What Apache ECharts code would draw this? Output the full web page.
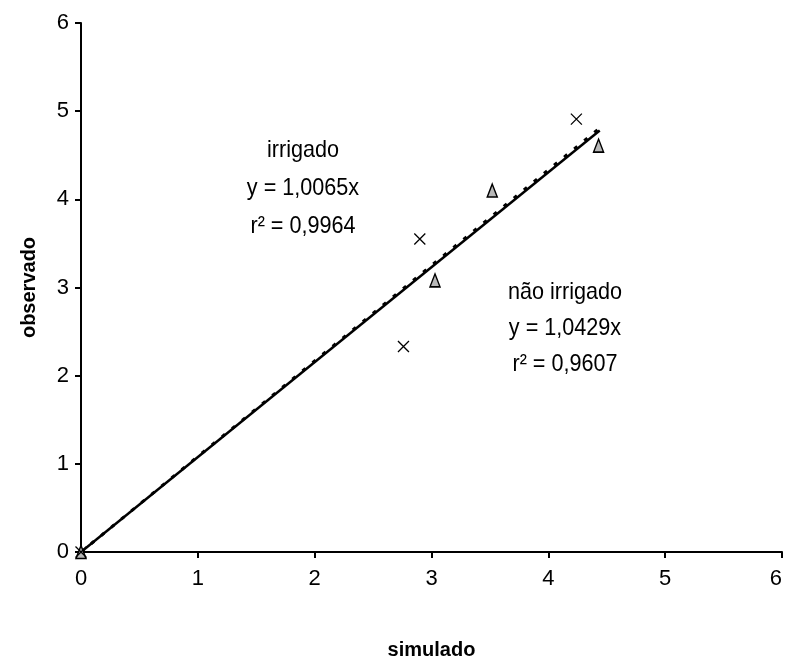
<!DOCTYPE html>
<html>
<head>
<meta charset="utf-8">
<script src="https://cdn.jsdelivr.net/npm/echarts@6/dist/echarts.min.js"></script>
<style>
  html, body { margin: 0; padding: 0; background: #fff; }
  #chart { width: 786px; height: 663px; }
</style>
</head>
<body>
<div id="chart"></div>
<script>
// valores
var axisTicks = [0, 1, 2, 3, 4, 5, 6];
var irrigado = [[0, 0], [3.03, 3.08], [3.52, 4.10], [4.43, 4.61]];
var naoIrrigado = [[0, 0], [2.76, 2.33], [2.90, 3.55], [4.24, 4.91]];
var linhaIrrigado = [[0, 0], [4.44, 4.78]];
var linhaNaoIrrigado = [[0, 0], [4.44, 4.81]];
var textoIrrigado = ['irrigado', 'y = 1,0065x', 'r² = 0,9964'];
var textoNaoIrrigado = ['não irrigado', 'y = 1,0429x', 'r² = 0,9607'];

var fonte = "'Liberation Sans', Arial, sans-serif";

function bloco(linhas, cx, y0, passo) {
    return linhas.map(function (t, i) {
        return {
            type: 'text',
            x: cx, y: y0 + i * passo,
            scaleX: 0.9,
            style: {
                text: t, fontFamily: fonte, fontSize: 24, fill: '#000',
                align: 'center', verticalAlign: 'middle'
            }
        };
    });
}

var chart = echarts.init(document.getElementById('chart'));
var option = {
    animation: false,
    backgroundColor: '#fff',
    grid: { left: 81, top: 23, right: 4, bottom: 111, outerBoundsMode: 'none', containLabel: false },
    xAxis: {
        type: 'value',
        min: axisTicks[0],
        max: axisTicks[axisTicks.length - 1],
        interval: 1,
        name: 'simulado',
        nameLocation: 'middle',
        nameGap: 88,
        nameTextStyle: { fontFamily: fonte, fontWeight: 'bold', fontSize: 20, color: '#000' },
        axisLine: { lineStyle: { color: '#000', width: 2 } },
        axisTick: { length: 6, lineStyle: { color: '#000', width: 2 } },
        axisLabel: { margin: 16, fontFamily: fonte, fontSize: 22, color: '#000', alignMaxLabel: 'right' },
        splitLine: { show: false }
    },
    yAxis: {
        type: 'value',
        min: axisTicks[0],
        max: axisTicks[axisTicks.length - 1],
        interval: 1,
        name: 'observado',
        nameLocation: 'middle',
        nameGap: 42,
        nameTextStyle: { fontFamily: fonte, fontWeight: 'bold', fontSize: 20, color: '#000' },
        axisLine: { lineStyle: { color: '#000', width: 2 } },
        axisTick: { length: 6, lineStyle: { color: '#000', width: 2 } },
        axisLabel: { margin: 12, fontFamily: fonte, fontSize: 22, color: '#000' },
        splitLine: { show: false }
    },
    series: [
        {
            name: 'tendencia irrigado',
            type: 'line',
            data: linhaIrrigado,
            symbol: 'none',
            lineStyle: { color: '#000', width: 2.5 },
            z: 2
        },
        {
            name: 'tendencia nao irrigado',
            type: 'line',
            data: linhaNaoIrrigado,
            symbol: 'none',
            lineStyle: { color: '#000', width: 3, type: [4, 9] },
            z: 2
        },
        {
            name: 'irrigado',
            type: 'scatter',
            data: irrigado,
            symbol: 'triangle',
            symbolSize: [10, 13],
            itemStyle: { color: '#b8b8b8', borderColor: '#000', borderWidth: 1.5, opacity: 1 },
            z: 3
        },
        {
            name: 'nao irrigado',
            type: 'scatter',
            data: naoIrrigado,
            symbol: 'path://M0,0L10,10M10,0L0,10',
            symbolSize: 11,
            itemStyle: { color: 'none', borderColor: '#000', borderWidth: 1.3, opacity: 1 },
            z: 3
        }
    ],
    graphic: bloco(textoIrrigado, 303, 150, 38).concat(bloco(textoNaoIrrigado, 565, 292, 36))
};
chart.setOption(option);
</script>
</body>
</html>
